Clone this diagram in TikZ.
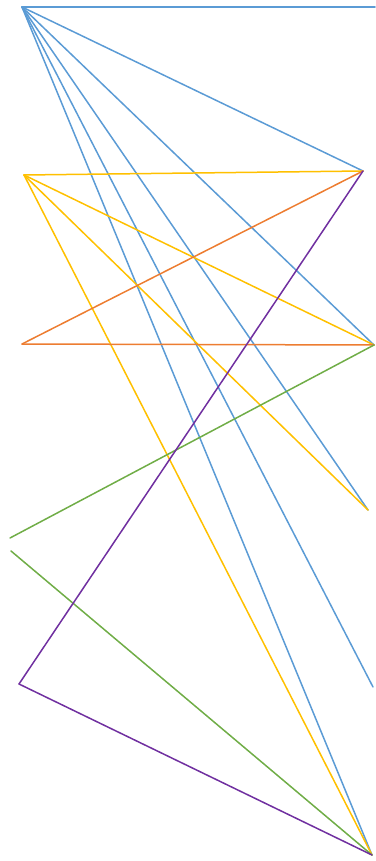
\documentclass[tikz,border=0pt]{standalone}
\definecolor{cblue}{HTML}{5B9BD5}
\definecolor{cyellow}{HTML}{FFC000}
\definecolor{corange}{HTML}{ED7D31}
\definecolor{cgreen}{HTML}{70AD47}
\definecolor{cpurple}{HTML}{7030A0}
\begin{document}
\begin{tikzpicture}[x=1pt,y=-1pt,
  edge/.style={line width=1.5pt, line cap=round, line join=round},
  be/.style={edge, cblue}, ye/.style={edge, cyellow}, oe/.style={edge, corange},
  ge/.style={edge, cgreen}, pe/.style={edge, cpurple}]
\useasboundingbox (0,0) rectangle (375,861);
% left coordinates
\coordinate (L1) at (22,7);
\coordinate (L2) at (24,175);
\coordinate (L3) at (22,344);
\coordinate (L4a) at (10,538);
\coordinate (L4b) at (11,551);
\coordinate (L5) at (19,684);
% right coordinates
\coordinate (R1) at (375,7);
\coordinate (R2) at (363,171);
\coordinate (R3) at (374,345);
\coordinate (R4) at (368,510);
\coordinate (R5) at (373,687);
\coordinate (R6) at (372,855);
% blue
\draw[be] (L1) -- (R1);
\draw[be] (L1) -- (R2);
\draw[be] (L1) -- (R3);
\draw[be] (L1) -- (R4);
\draw[be] (L1) -- (R5);
\draw[be] (L1) -- (R6);
% yellow
\draw[ye] (L2) -- (R2);
\draw[ye] (L2) -- (R3);
\draw[ye] (L2) -- (R4);
\draw[ye] (L2) -- (R6);
% orange
\draw[oe] (L3) -- (R2);
\draw[oe] (L3) -- (R3);
% green
\draw[ge] (L4a) -- (R3);
\draw[ge] (L4b) -- (R6);
% purple
\draw[pe] (L5) -- (R2);
\draw[pe] (L5) -- (R6);
\end{tikzpicture}
\end{document}
